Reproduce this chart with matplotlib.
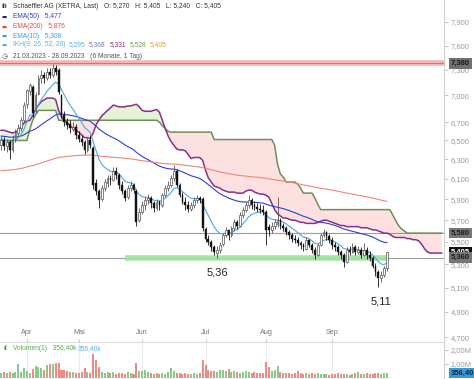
import numpy as np
import matplotlib
matplotlib.use("Agg")
import matplotlib.pyplot as plt
import matplotlib.transforms as mtransforms
from matplotlib.ticker import FixedLocator, NullLocator, FuncFormatter

# ---------------- data ----------------
opens = [6.45, 6.50, 6.44, 6.48, 6.40, 6.52, 6.58, 6.63, 6.72, 6.90,
         7.05, 7.10, 6.82, 7.02, 7.20, 7.24, 7.20, 7.28, 7.24, 7.32,
         7.30, 7.00, 6.78, 6.70, 6.68, 6.62, 6.65, 6.56, 6.52, 6.48,
         6.40, 6.50, 6.42, 6.06, 5.98, 5.90, 6.01, 6.06, 6.11, 6.09,
         6.18, 6.14, 6.04, 5.98, 5.92, 6.01, 6.04, 5.98, 5.70, 5.78,
         5.84, 5.89, 5.91, 5.86, 5.82, 5.87, 5.84, 5.94, 6.01, 6.04,
         6.11, 6.18, 6.04, 5.94, 5.87, 5.84, 5.81, 5.84, 5.89, 5.91,
         5.90, 5.62, 5.53, 5.50, 5.45, 5.40, 5.43, 5.48, 5.56, 5.61,
         5.56, 5.63, 5.68, 5.65, 5.75, 5.80, 5.84, 5.89, 5.84, 5.83,
         5.81, 5.80, 5.78, 5.64, 5.61, 5.65, 5.66, 5.70, 5.65, 5.63,
         5.59, 5.56, 5.53, 5.52, 5.49, 5.47, 5.44, 5.52, 5.47, 5.43,
         5.38, 5.47, 5.56, 5.59, 5.55, 5.52, 5.47, 5.45, 5.41, 5.38,
         5.32, 5.43, 5.41, 5.45, 5.41, 5.43, 5.38, 5.43, 5.38, 5.36,
         5.29, 5.23, 5.18, 5.21, 5.27]
highs = [6.55, 6.54, 6.52, 6.50, 6.56, 6.62, 6.68, 6.76, 6.92, 7.08,
         7.15, 7.12, 7.04, 7.24, 7.30, 7.28, 7.32, 7.33, 7.37, 7.36,
         7.32, 7.02, 6.82, 6.74, 6.72, 6.70, 6.68, 6.60, 6.56, 6.50,
         6.54, 6.56, 6.44, 6.10, 6.00, 6.04, 6.10, 6.14, 6.14, 6.22,
         6.22, 6.16, 6.08, 6.00, 6.04, 6.08, 6.06, 6.00, 5.82, 5.88,
         5.92, 5.95, 5.93, 5.88, 5.90, 5.89, 5.96, 6.04, 6.08, 6.14,
         6.24, 6.20, 6.06, 5.97, 5.92, 5.88, 5.87, 5.92, 5.94, 5.93,
         5.92, 5.64, 5.56, 5.52, 5.47, 5.46, 5.50, 5.58, 5.64, 5.62,
         5.65, 5.71, 5.70, 5.78, 5.83, 5.87, 5.94, 5.91, 5.88, 5.86,
         5.85, 5.84, 5.80, 5.66, 5.68, 5.71, 5.92, 5.72, 5.67, 5.65,
         5.61, 5.58, 5.56, 5.54, 5.51, 5.49, 5.54, 5.53, 5.49, 5.45,
         5.49, 5.58, 5.62, 5.60, 5.57, 5.54, 5.50, 5.47, 5.43, 5.40,
         5.45, 5.46, 5.49, 5.47, 5.46, 5.45, 5.49, 5.45, 5.42, 5.37,
         5.31, 5.25, 5.24, 5.29, 5.405]
lows = [6.40, 6.40, 6.38, 6.30, 6.38, 6.48, 6.55, 6.60, 6.70, 6.86,
        7.00, 6.76, 6.80, 7.00, 7.14, 7.15, 7.18, 7.20, 7.22, 7.24,
        7.02, 6.74, 6.66, 6.62, 6.58, 6.60, 6.52, 6.48, 6.44, 6.36,
        6.38, 6.42, 6.00, 5.94, 5.82, 5.88, 5.98, 6.02, 6.04, 6.08,
        6.10, 6.00, 5.95, 5.88, 5.90, 5.98, 5.96, 5.65, 5.68, 5.76,
        5.80, 5.85, 5.82, 5.78, 5.80, 5.80, 5.83, 5.92, 5.98, 6.02,
        6.08, 6.02, 5.92, 5.85, 5.80, 5.78, 5.79, 5.82, 5.86, 5.86,
        5.60, 5.50, 5.47, 5.42, 5.38, 5.36, 5.40, 5.46, 5.54, 5.52,
        5.54, 5.60, 5.62, 5.64, 5.72, 5.78, 5.82, 5.81, 5.80, 5.78,
        5.77, 5.75, 5.47, 5.55, 5.58, 5.62, 5.64, 5.62, 5.60, 5.56,
        5.53, 5.50, 5.49, 5.46, 5.44, 5.42, 5.43, 5.45, 5.40, 5.35,
        5.37, 5.46, 5.54, 5.52, 5.49, 5.44, 5.42, 5.38, 5.35, 5.28,
        5.31, 5.38, 5.40, 5.38, 5.39, 5.36, 5.37, 5.35, 5.33, 5.27,
        5.20, 5.11, 5.15, 5.19, 5.24]
closes = [6.50, 6.44, 6.48, 6.40, 6.52, 6.59, 6.63, 6.72, 6.89, 7.06,
          7.12, 6.80, 7.01, 7.20, 7.24, 7.20, 7.28, 7.24, 7.32, 7.28,
          7.04, 6.78, 6.70, 6.67, 6.63, 6.65, 6.56, 6.52, 6.48, 6.40,
          6.50, 6.45, 6.04, 5.98, 5.89, 6.01, 6.07, 6.11, 6.09, 6.18,
          6.14, 6.04, 5.98, 5.91, 6.01, 6.04, 5.99, 5.68, 5.78, 5.84,
          5.89, 5.91, 5.86, 5.82, 5.87, 5.84, 5.94, 6.01, 6.04, 6.11,
          6.18, 6.04, 5.94, 5.87, 5.84, 5.81, 5.84, 5.89, 5.91, 5.89,
          5.63, 5.53, 5.50, 5.45, 5.41, 5.43, 5.47, 5.56, 5.61, 5.56,
          5.63, 5.68, 5.65, 5.75, 5.80, 5.84, 5.89, 5.84, 5.83, 5.81,
          5.80, 5.78, 5.61, 5.61, 5.65, 5.68, 5.70, 5.65, 5.63, 5.59,
          5.56, 5.53, 5.52, 5.49, 5.47, 5.45, 5.52, 5.47, 5.43, 5.38,
          5.47, 5.56, 5.59, 5.55, 5.52, 5.47, 5.45, 5.41, 5.38, 5.32,
          5.43, 5.41, 5.45, 5.41, 5.43, 5.38, 5.43, 5.38, 5.36, 5.29,
          5.23, 5.18, 5.21, 5.27, 5.405]
volume_k = [380, 420, 350, 450, 330, 400, 980, 420, 690, 500,
            380, 620, 860, 760, 700, 600, 950, 1000, 980, 1050,
            1060, 550, 600, 480, 450, 420, 380, 330, 450, 690,
            400, 350, 1710, 1290, 810, 420, 380, 450, 330, 400,
            300, 380, 350, 300, 420, 380, 310, 1100, 530, 480,
            560, 400, 330, 280, 350, 300, 380, 260, 450, 690,
            520, 380, 330, 300, 350, 280, 300, 330, 260, 380,
            1290, 930, 600, 500, 520, 450, 560, 600, 520, 650,
            420, 500, 420, 380, 450, 520, 400, 380, 420, 380,
            330, 350, 1170, 810, 500, 600, 860, 450, 380, 330,
            360, 300, 360, 500, 350, 300, 380, 280, 330, 300,
            350, 260, 300, 280, 250, 300, 280, 330, 260, 300,
            280, 250, 300, 330, 450, 300, 280, 330, 260, 300,
            350, 330, 300, 330, 356.4]
# Ichimoku leading spans (already shifted 26 days forward, 154 positions)
senkou_a = [6.61, 6.61, 6.60, 6.59, 6.58, 6.59, 6.61, 6.65, 6.69, 6.71,
            6.72, 6.77, 6.84, 6.89, 6.93, 6.95, 6.97, 6.97, 6.97, 6.95,
            6.83, 6.76, 6.72, 6.69, 6.66, 6.63, 6.61, 6.59, 6.56, 6.53,
            6.53, 6.52, 6.58, 6.67, 6.72, 6.77, 6.80, 6.83, 6.86, 6.89,
            6.88, 6.87, 6.87, 6.87, 6.88, 6.88, 6.89, 6.90, 6.87, 6.83,
            6.82, 6.82, 6.82, 6.83, 6.84, 6.81, 6.72, 6.63, 6.55, 6.49,
            6.45, 6.41, 6.40, 6.40, 6.39, 6.35, 6.31, 6.32, 6.32, 6.32,
            6.29, 6.19, 6.11, 6.07, 6.03, 6.02, 6.01, 5.99, 5.98, 5.97,
            5.97, 5.97, 5.96, 5.96, 5.96, 5.98, 5.99, 5.99, 5.97, 5.96,
            5.95, 5.95, 5.94, 5.92, 5.86, 5.80, 5.76, 5.74, 5.72, 5.72,
            5.71, 5.70, 5.70, 5.69, 5.68, 5.68, 5.67, 5.67, 5.67, 5.67,
            5.68, 5.69, 5.70, 5.70, 5.69, 5.68, 5.67, 5.66, 5.65, 5.65,
            5.64, 5.64, 5.64, 5.64, 5.64, 5.63, 5.63, 5.63, 5.62, 5.61,
            5.61, 5.60, 5.59, 5.58, 5.58, 5.57, 5.55, 5.54, 5.54, 5.54,
            5.54, 5.53, 5.53, 5.52, 5.52, 5.51, 5.48, 5.44, 5.41, 5.40,
            5.40, 5.40, 5.40, 5.40]
senkou_b = [6.50, 6.50, 6.50, 6.50, 6.50, 6.50, 6.50, 6.50, 6.50, 6.50,
            6.62, 6.72, 6.78, 6.83, 6.83, 6.83, 6.83, 6.83, 6.83, 6.83,
            6.72, 6.72, 6.72, 6.72, 6.72, 6.72, 6.72, 6.72, 6.72, 6.72,
            6.72, 6.72, 6.72, 6.72, 6.72, 6.72, 6.72, 6.72, 6.72, 6.72,
            6.72, 6.72, 6.72, 6.72, 6.72, 6.72, 6.72, 6.72, 6.72, 6.72,
            6.72, 6.72, 6.72, 6.72, 6.72, 6.70, 6.66, 6.63, 6.60, 6.59,
            6.59, 6.59, 6.59, 6.59, 6.59, 6.59, 6.59, 6.59, 6.59, 6.59,
            6.59, 6.59, 6.59, 6.59, 6.51, 6.51, 6.51, 6.51, 6.51, 6.51,
            6.51, 6.51, 6.51, 6.51, 6.51, 6.51, 6.51, 6.51, 6.51, 6.51,
            6.51, 6.51, 6.51, 6.51, 6.51, 6.45, 6.25, 6.15, 6.12, 6.07,
            6.07, 6.07, 6.07, 6.05, 6.01, 5.96, 5.96, 5.96, 5.96, 5.91,
            5.85, 5.80, 5.80, 5.80, 5.80, 5.80, 5.80, 5.80, 5.80, 5.80,
            5.80, 5.80, 5.80, 5.80, 5.80, 5.80, 5.80, 5.80, 5.80, 5.80,
            5.80, 5.80, 5.80, 5.80, 5.80, 5.80, 5.75, 5.70, 5.65, 5.62,
            5.60, 5.58, 5.58, 5.58, 5.58, 5.58, 5.58, 5.58, 5.58, 5.58,
            5.58, 5.58, 5.58, 5.58]
month_labels = ["Apr", "Mai", "Jun", "Jul", "Aug", "Sep"]
month_start_idx = [9, 27, 49, 71, 92, 115]
price_ticks = [7.9, 7.6, 7.3, 7.0, 6.7, 6.5, 6.3, 6.1, 5.9, 5.7, 5.5, 5.3, 5.1, 4.9, 4.7]
volume_ticks = [1.0, 2.0]
ema_specs = [(50, 6.55, "#2b3fd6"), (200, 6.18, "#ef8677"), (10, 6.52, "#4aa8e8")]
resistance_top = 7.38
level_upper = 5.58
level_lower = 5.36
support_band_range = (43, 133.5)
short_red_range = (94, 108)
low_labels = [(75, 5.36, "5,36"), (131, 5.11, "5,11")]

# ---------------- figure ----------------
W, H = 474, 379
fig = plt.figure(figsize=(W / 100, H / 100), dpi=100)
plt.rcParams['font.family'] = ['Liberation Sans', 'DejaVu Sans']

ax = fig.add_axes([0, 37 / H, 444 / W, 342 / H])
axv = fig.add_axes([0, 0, 444 / W, 37 / H])

o = np.array(opens); h = np.array(highs); l = np.array(lows); c = np.array(closes)
idx = np.arange(len(c))
up = c >= o

ax.set_yscale('log')
ax.set_ylim(4.664, 8.192)
ax.set_xlim(-0.35, 153.8)

# cloud
ci = np.arange(len(senkou_a))
sa = np.array(senkou_a); sb = np.array(senkou_b)
ax.fill_between(ci, sa, sb, where=sa >= sb, interpolate=True, color='#e4f2d6', lw=0, zorder=1)
ax.fill_between(ci, sa, sb, where=sa < sb, interpolate=True, color='#fde0e0', lw=0, zorder=1)
ax.plot(ci, sb, color='#6f8f58', lw=1.1, zorder=2)
ax.plot(ci, sa, color='#8a2e8a', lw=1.1, zorder=2)

# EMAs
def ema(values, period, seed):
    a = 2.0 / (period + 1)
    out, prev = [], seed
    for v in values:
        prev = prev + a * (v - prev)
        out.append(prev)
    return np.array(out)

for period, seed, col in ema_specs:
    ax.plot(idx, ema(c, period, seed), color=col, lw=0.8, zorder=2.5)

# horizontal levels
ax.axhline(resistance_top, color='#f6b3b3', lw=4, zorder=2)
ax.axhline(resistance_top, color='#e46a6a', lw=0.7, zorder=2.1)
ax.axhline(level_upper, color='#9a9a9a', lw=0.8, zorder=1.5)
ax.axhline(level_lower, color='#9a9a9a', lw=0.8, zorder=1.5)
ax.hlines(level_lower, *support_band_range, color='#9fe09f', lw=4, alpha=0.9, zorder=1.6)
ax.hlines(level_upper, *short_red_range, color='#ef8a8a', lw=0.9, zorder=1.7)

# candles
ax.vlines(idx[up], l[up], h[up], color='#555555', lw=0.6, zorder=3)
ax.vlines(idx[~up], l[~up], h[~up], color='#111111', lw=0.6, zorder=3)
ax.bar(idx[up], c[up] - o[up], bottom=o[up], width=0.62, color='white',
       edgecolor='#555555', lw=0.5, zorder=3.5)
ax.bar(idx[~up], o[~up] - c[~up], bottom=c[~up], width=0.62, color='#111111',
       edgecolor='#111111', lw=0.3, zorder=3.5)

# low labels
for xi, yv, s in low_labels:
    ax.annotate(s, xy=(xi, yv), xytext=(2 if xi > 100 else 0, -11), textcoords='offset points',
                ha='center', va='center', fontsize=8, color='#222222', zorder=5)

# axes styling (main)
for sp in ['top', 'left', 'bottom']:
    ax.spines[sp].set_visible(False)
ax.spines['right'].set_color('#d0d0d0')
ax.spines['right'].set_linewidth(0.8)
ax.yaxis.tick_right()
ax.yaxis.set_major_locator(FixedLocator(price_ticks))
ax.yaxis.set_minor_locator(NullLocator())
ax.yaxis.set_major_formatter(FuncFormatter(lambda v, p: f"{v:.3f}".replace('.', ',')))
ax.tick_params(axis='y', which='major', direction='out', length=3, width=0.6,
               color='#bbbbbb', labelsize=5.5, labelcolor='#9a9a9a', pad=2)
ax.set_xticks(month_start_idx)
ax.tick_params(axis='x', direction='in', length=2.5, width=0.6, color='#bbbbbb', labelbottom=False)
trans_xa = mtransforms.blended_transform_factory(ax.transData, ax.transAxes)
for xi, s in zip(month_start_idx, month_labels):
    ax.text(xi, 0.027, s, transform=trans_xa, ha='center', va='center', fontsize=5.2, color='#777777')

# right-side value boxes
trans_ay = mtransforms.blended_transform_factory(ax.transAxes, ax.transData)
def value_box(axis, tr, yv, s, fc, tc, z):
    axis.text(1.0 + 7 / 444, yv, s, transform=tr, ha='left', va='center', fontsize=5.5,
              color=tc, fontweight='bold', clip_on=False, zorder=z,
              bbox=dict(boxstyle='square,pad=0.22', fc=fc, ec='none'))
value_box(ax, trans_ay, resistance_top, "7,380", '#707070', '#1a1a1a', 10)
value_box(ax, trans_ay, level_upper, "5,580", '#777777', '#1a1a1a', 10)
value_box(ax, trans_ay, closes[-1], "5,405", '#111111', '#ffffff', 10)
value_box(ax, trans_ay, level_lower, "5,360", '#777777', '#1a1a1a', 11)

# volume panel
vol_m = np.array(volume_k) / 1000.0
axv.set_xlim(-0.35, 153.8)
axv.set_ylim(-0.07, 2.57)
for xi in month_start_idx:
    axv.axvline(xi, color='#e8e8e8', lw=0.6, zorder=0)
axv.bar(idx[up], vol_m[up], width=0.7, color='#86cc86', zorder=2)
axv.bar(idx[~up], vol_m[~up], width=0.7, color='#f08a84', zorder=2)
for sp in ['left', 'bottom']:
    axv.spines[sp].set_visible(False)
axv.spines['right'].set_color('#d0d0d0')
axv.spines['right'].set_linewidth(0.8)
axv.spines['top'].set_color('#dcdcdc')
axv.spines['top'].set_linewidth(0.8)
axv.yaxis.tick_right()
axv.set_yticks(volume_ticks)
axv.set_yticklabels([f"{v:.2f}".replace('.', ',') + "M" for v in volume_ticks])
axv.tick_params(axis='y', direction='out', length=3, width=0.6, color='#bbbbbb',
                labelsize=5.5, labelcolor='#9a9a9a', pad=2)
axv.set_xticks([])
trans_vy = mtransforms.blended_transform_factory(axv.transAxes, axv.transData)
value_box(axv, trans_vy, vol_m[-1], "356,40", '#3a9ad8', '#0b2a48', 10)

# header legend
def ftext(x, y, s, **kw):
    fig.text(x / W, 1 - y / H, s, va='center', ha='left', **kw)

fs = 4.8
ftext(2, 7, "ılı", fontsize=fs, color='#333333', fontweight='bold')
ftext(13, 7, "Schaeffler AG (XETRA, Last)   O: 5,270   H: 5,405   L: 5,240   C: 5,405",
      fontsize=fs, color='#333333')
ftext(2, 17, "▬", fontsize=4, color='#1c2a8c', family=['DejaVu Sans'])
ftext(13, 17, "EMA(50)   5,477", fontsize=fs, color='#2b3fd6')
ftext(2, 27, "▬", fontsize=4, color='#e8483c', family=['DejaVu Sans'])
ftext(13, 27, "EMA(200)   5,876", fontsize=fs, color='#e8483c')
ftext(2, 36, "▬", fontsize=4, color='#3a9ee0', family=['DejaVu Sans'])
ftext(13, 36, "EMA(10)   5,308", fontsize=fs, color='#3a9ee0')
ftext(2, 45, "▬", fontsize=4, color='#5fb0e0', family=['DejaVu Sans'])
ftext(13, 45, "IKH(9, 26, 52, 26)", fontsize=fs, color='#5fb0e0')
for xx, s, col in [(69, "5,295", '#5fb0e0'), (89, "5,368", '#6b7fa8'), (110, "5,331", '#8a2e8a'),
                   (130, "5,528", '#7a9a50'), (150, "5,405", '#e0a020')]:
    ftext(xx, 45, s, fontsize=fs, color=col)
ftext(2, 56, "◷", fontsize=5, color='#555555', family=['DejaVu Sans'])
ftext(13, 56, "21.03.2023 - 28.09.2023   (6 Monate, 1 Tag)", fontsize=fs, color='#555555')

ftext(3, 349, "ıl", fontsize=fs, color='#3a9a3a', fontweight='bold')
ftext(13, 349, "Volumen(1)   356,40k", fontsize=fs, color='#4caf50')
ftext(78, 349, "356,40k", fontsize=fs, color='#5fb0e0')

fig.savefig("out.png", dpi=100)
